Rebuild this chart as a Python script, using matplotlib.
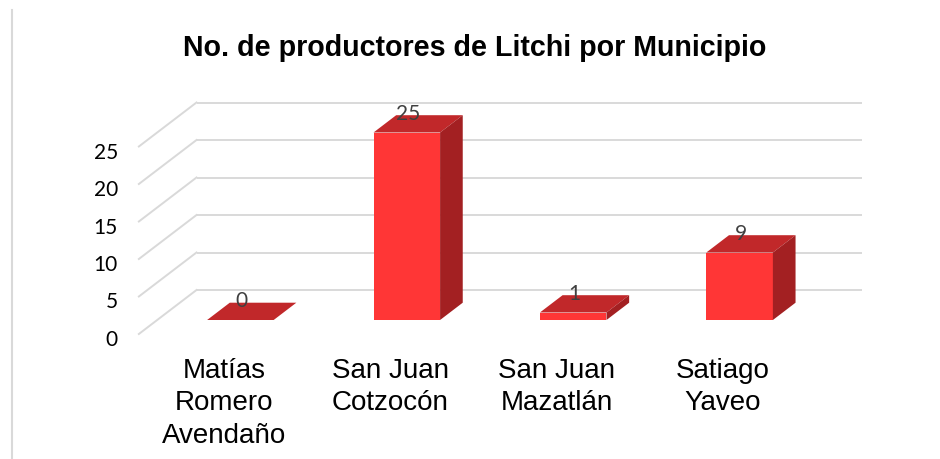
import numpy as np
import matplotlib
matplotlib.use("Agg")
import matplotlib.pyplot as plt
from matplotlib.patches import Polygon
from matplotlib.lines import Line2D

# data
municipios = ["Matías\nRomero\nAvendaño", "San Juan\nCotzocón", "San Juan\nMazatlán", "Satiago\nYaveo"]
productores = [0, 25, 1, 9]
y_ticks = [0, 5, 10, 15, 20, 25]
titulo = "No. de productores de Litchi por Municipio"

front_col = "#ff3636"
top_col = "#c1282a"
side_col = "#a32022"
grid_col = "#d9d9d9"

W, H = 940, 460
fig = plt.figure(figsize=(W / 100, H / 100), dpi=100)
fig.patch.set_facecolor("white")

# axes box in pixels (front plane of the bars)
x0, sx = 240.4, 166.4      # pixel of category 0, pixels per category
y0, sy = 321.0, 7.5        # pixel (from top) of value 0, pixels per unit
xlim = (-1.0, 4.0)
ylim = (-3.0, 30.0)
left = x0 + xlim[0] * sx
right = x0 + xlim[1] * sx
bottom = y0 - ylim[0] * sy
top = y0 - ylim[1] * sy
ax = fig.add_axes([left / W, (H - bottom) / H, (right - left) / W, (bottom - top) / H])
ax.set_xlim(*xlim)
ax.set_ylim(*ylim)
ax.axis("off")


def depth(z):
    # pixel depth (vertical pixels) -> data offset, receding up and to the right
    return 1.31 * z / sx, z / sy


bar_w = 0.4
z_bar = 17.3
z_back = 30.0
z_front = -14.0
wall_l, wall_r = -0.5, 3.5

# gridlines on back wall and left wall
bx, by = depth(z_back)
fx, fy = depth(z_front)
for v in y_ticks:
    ax.plot([wall_l + bx, wall_r + bx], [v + by, v + by], color=grid_col, lw=1.4, zorder=1,
            solid_capstyle="butt")
    ax.plot([wall_l + fx, wall_l + bx], [v + fy, v + by], color=grid_col, lw=1.4, zorder=1)
    ax.annotate(str(v), xy=(wall_l + fx, v + fy), xytext=(-21, -5), textcoords="offset pixels",
                ha="right", va="center", fontsize=15, family="Lato", color="#000000")

# bars
xs = np.arange(len(productores))
dx, dy = depth(z_bar)
ax.bar(xs, productores, width=bar_w, color=front_col, zorder=3)
for x, v in zip(xs, productores):
    l, r = x - bar_w / 2, x + bar_w / 2
    top_face = [(l, v), (r, v), (r + dx, v + dy), (l + dx, v + dy)]
    side_face = [(r, 0), (r, v), (r + dx, v + dy), (r + dx, dy)]
    ax.add_patch(Polygon(top_face, closed=True, facecolor=top_col, edgecolor="none", zorder=3))
    if v > 0:
        ax.add_patch(Polygon(side_face, closed=True, facecolor=side_col, edgecolor="none", zorder=3))
    ax.annotate(str(v), xy=(x, v), xytext=(1, 20), textcoords="offset pixels",
                ha="center", va="center", fontsize=15, family="Lato", color="#404040", zorder=4)
    ax.annotate(municipios[x], xy=(x - 0.1, 0), xytext=(0, -37), textcoords="offset pixels",
                ha="center", va="top", fontsize=20, family="Liberation Sans", color="#000000",
                linespacing=1.32)

fig.text(0.505, 1 - 48 / H, titulo, ha="center", va="center", fontsize=20.6,
         fontweight="bold", family="Liberation Sans", color="#000000")

# chart border (left edge only visible)
fig.add_artist(Line2D([12 / W, 12 / W], [0, 1 - 11 / H], color=grid_col, lw=1.5))

fig.savefig("out.png", dpi=100)
